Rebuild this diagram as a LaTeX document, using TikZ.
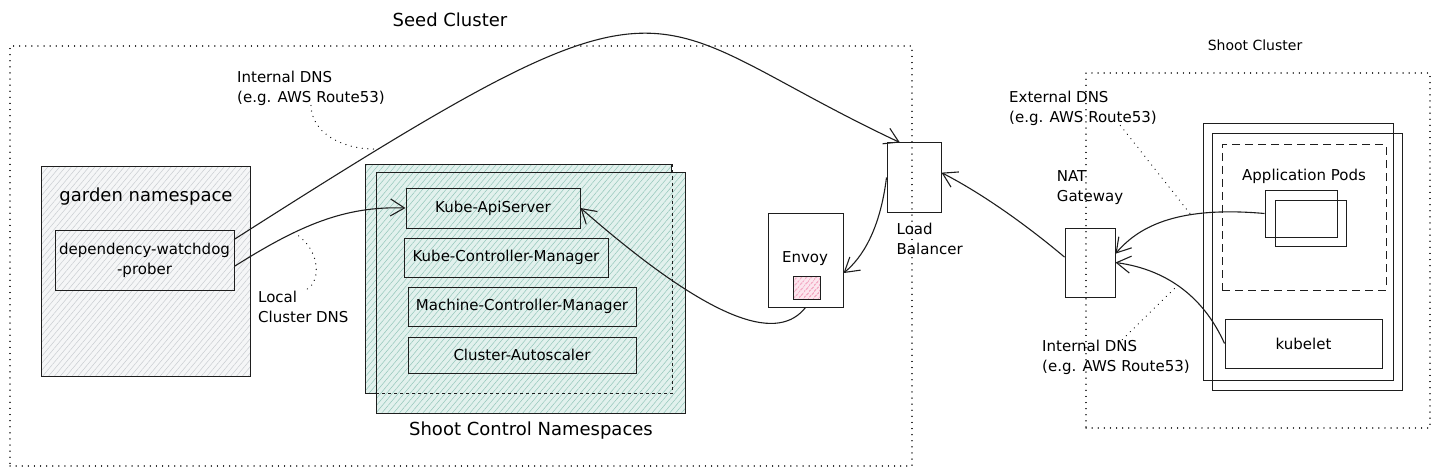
\documentclass[tikz,border=0pt]{standalone}
\usepackage{fontspec}
\setmainfont{DejaVu Sans}
\usetikzlibrary{arrows.meta,positioning,patterns.meta}
\definecolor{ink}{HTML}{1E1E1E}
\definecolor{grayfill}{HTML}{F5F6F7}
\definecolor{grayline}{HTML}{C9CDD1}
\definecolor{tealfill}{HTML}{E2F1ED}
\definecolor{tealline}{HTML}{93C6BA}
\definecolor{pinkfill}{HTML}{FCE6EE}
\definecolor{pinkline}{HTML}{E64980}
\tikzset{
  box/.style={
    draw=ink, line width=1pt, inner sep=0pt,
    align=center, font=\fontsize{15}{20}\selectfont
  },
  grayhatch/.style={preaction={fill=grayfill},
    pattern={Lines[angle=50,distance=4.5pt,line width=0.5pt]}, pattern color=grayline},
  tealhatch/.style={preaction={fill=tealfill},
    pattern={Lines[angle=50,distance=4.5pt,line width=0.5pt]}, pattern color=tealline},
  pinkhatch/.style={preaction={fill=pinkfill},
    pattern={Lines[angle=50,distance=4pt,line width=0.6pt]}, pattern color=pinkline},
  zone/.style={draw=ink, line width=1.3pt, dash pattern=on 0.1pt off 6pt,
    line cap=round, inner sep=0pt},
  dashbox/.style={draw=ink, line width=1pt, dash pattern=on 8pt off 5pt, inner sep=0pt},
  lbl/.style={align=left, font=\fontsize{15}{20}\selectfont, inner sep=0pt},
  title/.style={font=\fontsize{18}{22}\selectfont, inner sep=0pt},
  arr/.style={-{Straight Barb[length=14pt,width=17pt]}, line width=1.1pt, draw=ink},
  dnslink/.style={draw=ink, line width=1.3pt, dash pattern=on 0.1pt off 5.5pt, line cap=round}
}

\begin{document}
\begin{tikzpicture}[x=1pt, y=-1pt, node distance=6pt]
  \useasboundingbox (0,0) rectangle (1438,476);

  % seed cluster
  \node[zone, minimum width=902pt, minimum height=420pt] (seed) at (461,256) {};
  \node[title] (seedtitle) at (450,20) {Seed Cluster};
  \node[box, grayhatch, minimum width=209pt, minimum height=209pt] (garden) at (145.5,271.5) {};
  \node[title] (gardentitle) at (146,197) {garden namespace};
  \node[box, minimum width=179pt, minimum height=60pt] (prober) at (144.5,260) {dependency-watchdog\\-prober};

  \node[box, tealhatch, minimum width=306pt, minimum height=228pt] (ns1) at (518.5,279) {};
  \node[box, tealhatch, minimum width=309pt, minimum height=240pt] (ns2) at (531,293) {};
  \draw[ink, line width=0.8pt, dashed] (ns1.north east) -- (ns1.south east) -- (ns1.south west);
  \node[title, below=8pt of ns2] (nstitle) {Shoot Control Namespaces};
  \node[box, minimum width=174pt, minimum height=40pt] (api) at (493,208) {Kube-ApiServer};
  \node[box, minimum width=204pt, minimum height=39pt] (kcm) at (506,257.5) {Kube-Controller-Manager};
  \node[box, minimum width=228pt, minimum height=39pt] (mcm) at (522,306.5) {Machine-Controller-Manager};
  \node[box, minimum width=228pt, minimum height=36pt] (ca) at (522,355) {Cluster-Autoscaler};

  \node[box, minimum width=75pt, minimum height=94pt] (envoy) at (805.5,260) {};
  \node[lbl] (envoytxt) at (805,259) {Envoy};
  \node[box, pinkhatch, minimum width=27pt, minimum height=23pt] (filter) at (806.5,287.5) {};
  \node[box, minimum width=54pt, minimum height=69pt] (lb) at (914,177.5) {};
  \node[lbl, below right=10pt and 10pt of lb.south west] (lbtitle) {Load\\Balancer};

  \node[lbl, anchor=west] (intdns) at (237,88) {Internal DNS\\(e.g. AWS Route53)};
  \node[lbl, anchor=west] (localdns) at (258,307) {Local\\Cluster DNS};

  % shoot cluster
  \node[zone, minimum width=344pt, minimum height=355pt] (shoot) at (1258,250.5) {};
  \node[font=\fontsize{14}{18}\selectfont, inner sep=0pt] (shoottitle) at (1255,45) {Shoot Cluster};
  \node[box, minimum width=190pt, minimum height=256pt] (nd1) at (1298,252) {};
  \node[box, minimum width=190pt, minimum height=256pt] (nd2) at (1307,262) {};
  \node[dashbox, minimum width=164pt, minimum height=145pt] (apps) at (1304,217.5) {};
  \node[lbl] (appstitle) at (1304,176) {Application Pods};
  \node[box, minimum width=72pt, minimum height=47pt] (pod1) at (1301,213.5) {};
  \node[box, minimum width=71pt, minimum height=46pt] (pod2) at (1310.5,223) {};
  \node[box, minimum width=157pt, minimum height=49pt] (kubelet) at (1303.5,343.5) {kubelet};
  \node[box, minimum width=50pt, minimum height=69pt] (nat) at (1090,262.5) {};
  \node[lbl, above=23pt of nat] (nattitle) {NAT\\Gateway};
  \node[lbl, anchor=west] (extdns) at (1009,108) {External DNS\\(e.g. AWS Route53)};
  \node[lbl, anchor=west] (intdns2) at (1042,357) {Internal DNS\\(e.g. AWS Route53)};

  % connections
  \draw[arr] (prober.13) .. controls (692,-53) and (629,15) .. (lb.112) coordinate[pos=0.12] (c1);
  \draw[arr] (prober.-4) .. controls (300,225) and (345,206) .. (api.west) coordinate[pos=0.33] (c2);
  \draw[arr] (envoy.south) .. controls (780,340) and (720,330) .. (api.east);
  \draw[arr] (lb.west) .. controls (880,230) and (862,258) .. (envoy.-19);
  \draw[arr] (nat.168) .. controls (1030,228) and (985,195) .. (lb.10);
  \draw[arr] (pod1.west) .. controls (1180,206) and (1140,225) .. (nat.19) coordinate[pos=0.35] (c3);
  \draw[arr] (kubelet.west) .. controls (1205,300) and (1170,270) .. (nat.east) coordinate[pos=0.55] (c4);

  \draw[dnslink] (intdns.south) .. controls (312,135) and (345,150) .. (c1);
  \draw[dnslink] (c2) .. controls (322,250) and (322,285) .. (localdns.north);
  \draw[dnslink] (extdns.-25) -- (c3);
  \draw[dnslink] (intdns2.70) -- (c4);
\end{tikzpicture}
\end{document}
